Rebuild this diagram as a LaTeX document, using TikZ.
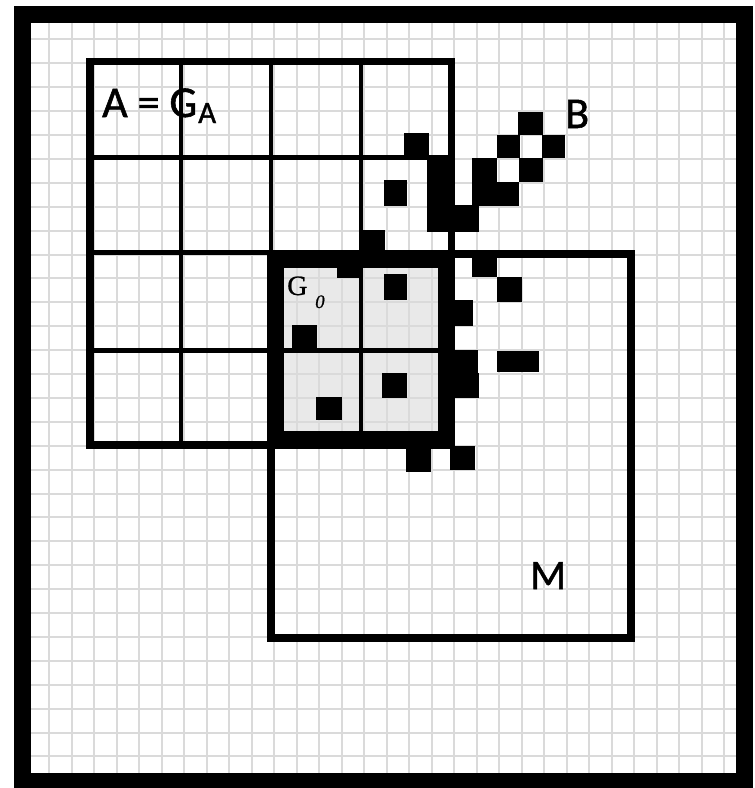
\documentclass[tikz,border=0pt]{standalone}
\usepackage{fontspec}
\newfontfamily\carlito[FakeBold=1.2]{Carlito}
\newfontfamily\tnr[FakeBold=0.8]{Liberation Serif}
\definecolor{gridgray}{RGB}{218,218,218}
\definecolor{fillgray}{RGB}{233,233,233}
\begin{document}
\begin{tikzpicture}[x=1pt,y=-1pt,
  fine/.style={draw=gridgray,line width=2pt},
  outerline/.style={draw=black,line width=7.5pt},
  innerline/.style={draw=black,line width=4.5pt},
  mbox/.style={draw=black,line width=8pt},
  gbox/.style={draw=black,line width=17pt},
  framebox/.style={draw=black,line width=17pt},
  blk/.style={fill=black},
  lab/.style={inner sep=0pt,anchor=base west}]
\useasboundingbox (0,0) rectangle (755,788);
\clip (0,0) rectangle (755,788);
\fill[white] (0,0) rectangle (755,788);
% shaded G0 area
\fill[fillgray] (270,255) rectangle (450,445);
% fine grid
\foreach \k in {0,...,30} \draw[fine] ({49+22.5*\k},23) -- ({49+22.5*\k},775);
\foreach \k in {0,...,30} \draw[fine] (23,{39.4+23.9*\k}) -- (740,{39.4+23.9*\k});
% A grid
\foreach \x in {181,271,361} \draw[innerline] (\x,61.5) -- (\x,445);
\foreach \y in {157.5,252.5,350.5} \draw[innerline] (90,\y) -- (451.5,\y);
\draw[outerline] (90,61.5) rectangle (451.5,445);
% M
\draw[mbox] (271,254) rectangle (631,638);
% G0
\draw[gbox] (275.5,259.5) rectangle (446.5,439);
% black cells: B cluster
\fill[blk] (404,133) rectangle (429,159);
\fill[blk] (384,180) rectangle (407,206);
\fill[blk] (427,155) rectangle (453,232);
\fill[blk] (427,205) rectangle (479,232);
\fill[blk] (472,158) rectangle (497,206);
\fill[blk] (472,182) rectangle (519,206);
\fill[blk] (497,135) rectangle (520,158);
\fill[blk] (518,112) rectangle (543,135);
\fill[blk] (542,135) rectangle (565,158);
\fill[blk] (519,158) rectangle (543,182);
% black cells near G0
\fill[blk] (361,230) rectangle (385,254);
\fill[blk] (337,254) rectangle (360,278);
\fill[blk] (384,274) rectangle (407,300);
\fill[blk] (292,325) rectangle (317,350);
\fill[blk] (316,397) rectangle (342,420);
\fill[blk] (382,373) rectangle (407,398);
\fill[blk] (447,300) rectangle (473,326);
\fill[blk] (447,350) rectangle (478,373);
\fill[blk] (447,373) rectangle (479,398);
\fill[blk] (472,254) rectangle (497,277);
\fill[blk] (497,277) rectangle (522,302);
\fill[blk] (497,351) rectangle (539,372);
\fill[blk] (406,446) rectangle (431,472);
\fill[blk] (450,446) rectangle (475,470);
% outer frame
\draw[framebox] (22.8,14.5) rectangle (744,781);
% labels
\node[lab,font=\carlito\fontsize{44}{44}\selectfont] (labA) at (102,117) {A = G};
\node[lab,font=\carlito\fontsize{31}{31}\selectfont] (labAsub) at (198,123) {A};
\node[lab,font=\carlito\fontsize{44}{44}\selectfont] (labB) at (565,128) {B};
\node[lab,font=\carlito\fontsize{42}{42}\selectfont] (labM) at (530,589) {M};
\node[lab,font=\tnr\fontsize{28}{28}\selectfont] (labG) at (287,295) {G};
\node[lab,font=\tnr\itshape\fontsize{19}{19}\selectfont] (labGsub) at (315,308) {0};
\end{tikzpicture}
\end{document}
